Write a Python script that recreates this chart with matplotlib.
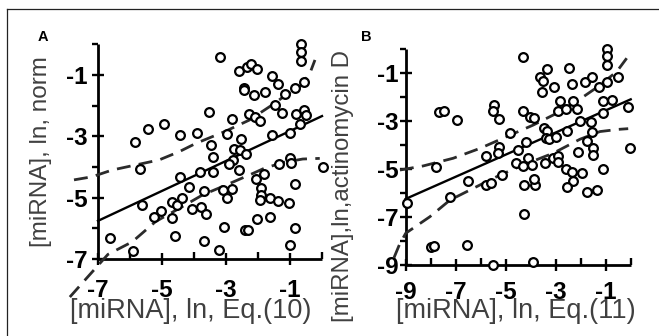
import matplotlib
matplotlib.use("Agg")
import matplotlib.pyplot as plt
import numpy as np
from matplotlib.ticker import FixedLocator

plt.rcParams['font.family'] = ['Liberation Sans', 'DejaVu Sans']

# ---------------- Panel A data ----------------
a_x = [-3.18, -0.67, -0.67, -0.67, -2.58, -2.35, -2.23, -2.04, -1.57, -1.37,
       -2.45, -2.45, -2.11, -1.77, -1.17, -0.85, -0.56, -3.54, -2.81, -2.27,
       -2.08, -1.93, -1.48, -1.25, -0.82, -0.56, -0.49, -0.69, -5.43, -4.93,
       -5.85, -4.43, -3.91, -2.97, -3.47, -2.53, -1.57, -0.99, -2.74, -2.56,
       -2.37, -3.42, -2.79, -2.92, -2.58, -5.69, -3.82, -3.40, -4.45, -4.15,
       -3.70, -3.10, -2.81, -2.98, -2.06, -1.82, -1.90, -1.92, -1.95, -1.62,
       -1.37, -1.02, -0.85, -1.33, -1.01, -0.98, 0.04, -5.64, -4.68, -4.54,
       -4.36, -5.02, -5.25, -4.68, -4.05, -3.79, -3.63, -3.05, -2.42, -2.32,
       -2.03, -1.64, -0.84, -1.01, -4.59, -3.68, -6.64, -5.90, -3.21]
a_y = [-0.42, 0.01, -0.26, -0.53, -0.87, -0.75, -0.65, -0.80, -1.02, -1.29,
       -1.43, -1.50, -1.65, -1.54, -1.63, -1.43, -1.22, -2.20, -2.45, -2.28,
       -2.36, -2.50, -1.98, -2.23, -2.27, -2.14, -2.30, -2.59, -2.77, -2.61,
       -3.20, -2.95, -2.89, -2.93, -3.28, -3.09, -2.96, -2.89, -3.41, -3.43,
       -3.58, -3.68, -3.77, -3.91, -4.11, -4.07, -4.17, -4.17, -4.32, -4.64,
       -4.77, -4.75, -4.73, -5.02, -4.40, -4.23, -4.70, -4.91, -5.08, -5.00,
       -5.10, -5.18, -4.55, -3.90, -3.72, -3.86, -4.01, -5.24, -5.13, -5.24,
       -5.02, -5.43, -5.62, -5.65, -5.38, -5.30, -5.54, -5.95, -6.05, -6.05,
       -5.71, -5.64, -5.98, -6.54, -6.24, -6.41, -6.31, -6.73, -6.72]
a_fit_slope = 0.488
a_fit_intercept = -2.34
a_up_x = [-7.75, -7.19, -6.56, -5.09, -4.46, -3.94, -3.05, -2.27, -1.59, -1.12, -0.69, -0.38, -0.22]
a_up_y = [-4.42, -4.32, -4.10, -3.77, -3.50, -3.23, -2.85, -2.47, -2.00, -1.65, -1.38, -0.95, -0.51]
a_lo_x = [-7.88, -7.30, -6.69, -5.93, -5.20, -4.46, -3.73, -3.00, -2.16, -1.80, -1.20, -0.60, -0.07]
a_lo_y = [-8.24, -7.56, -6.85, -6.44, -5.78, -5.35, -4.91, -4.59, -4.21, -4.04, -3.85, -3.74, -3.72]
a_xmajor = [-7, -5, -3, -1]
a_xminor = [-6, -4, -2, 0]
a_ymajor = [-7, -5, -3, -1]
a_yminor = [-6, -4, -2, 0]

# ---------------- Panel B data ----------------
b_x = [-4.29, -0.96, -0.96, -0.96, -3.36, -2.46, -3.63, -3.52, -3.56, -3.07,
       -2.34, -1.83, -1.56, -1.27, -0.94, -0.52, -2.83, -2.32, -2.92, -2.59,
       -2.16, -1.12, -0.76, -1.12, -0.12, -7.66, -7.46, -6.96, -5.47, -5.52,
       -5.26, -4.32, -4.03, -3.87, -2.03, -1.60, -3.47, -3.36, -4.83, -4.19,
       -3.40, -3.27, -3.00, -2.56, -1.56, -1.76, -1.49, -2.10, -0.03, -5.27,
       -5.30, -5.77, -4.50, -4.10, -4.59, -4.32, -3.96, -3.43, -3.10, -2.90,
       -2.90, -1.52, -2.59, -2.36, -2.32, -2.54, -1.96, -1.10, -1.74, -1.36,
       -7.80, -6.49, -5.79, -5.60, -5.14, -4.27, -3.83, -3.87, -7.23, -8.94,
       -4.26, -8.00, -7.86, -6.56, -5.52, -3.90]
b_y = [-0.33, -0.02, -0.29, -0.68, -0.86, -0.82, -1.19, -1.33, -1.82, -1.58,
       -1.48, -1.38, -1.17, -1.58, -1.40, -1.19, -2.17, -2.17, -2.58, -2.51,
       -2.51, -2.18, -2.14, -2.69, -2.42, -2.62, -2.59, -2.97, -2.34, -2.59,
       -2.93, -2.59, -2.86, -2.90, -3.00, -3.06, -3.31, -3.41, -3.50, -3.87,
       -3.70, -3.76, -3.66, -3.41, -3.46, -3.84, -4.15, -4.29, -4.15, -4.08,
       -4.35, -4.45, -4.22, -4.56, -4.77, -4.87, -4.84, -4.77, -4.56, -4.47,
       -4.70, -4.42, -5.01, -5.14, -5.49, -5.74, -5.16, -5.01, -5.95, -5.88,
       -4.91, -5.51, -5.67, -5.60, -5.26, -5.67, -5.67, -5.42, -6.16, -6.43,
       -6.89, -8.24, -8.21, -8.17, -9.00, -8.89]
b_fit_slope = 0.46
b_fit_intercept = -2.11
b_up_x = [-9.23, -8.30, -7.10, -6.03, -4.96, -3.90, -2.96, -2.03, -1.36, -0.56, -0.16]
b_up_y = [-5.05, -4.88, -4.56, -4.15, -3.66, -3.18, -2.69, -2.10, -1.62, -0.96, -0.40]
b_lo_x = [-9.47, -9.25, -9.00, -8.03, -7.23, -6.16, -5.23, -4.30, -3.10, -2.03, -1.23, -0.50, -0.10]
b_lo_y = [-8.70, -8.15, -7.68, -6.99, -6.30, -5.74, -5.26, -4.84, -4.35, -3.77, -3.45, -3.36, -3.33]
b_xmajor = [-9, -7, -5, -3, -1]
b_xminor = [-8, -6, -4, -2, 0]
b_ymajor = [-9, -7, -5, -3, -1]
b_yminor = [-8, -6, -4, -2, 0]

W, H = 659, 336
fig = plt.figure(figsize=(W / 100, H / 100), dpi=100)

def px_rect(l, r, b, t):
    return [l / W, (H - b) / H, (r - l) / W, (b - t) / H]

def panel(ax, xs, ys, slope, icpt, upx, upy, lox, loy, xlim, ylim,
          xmaj, xmin, ymaj, ymin, ypad, xpad):
    ax.set_xlim(*xlim)
    ax.set_ylim(*ylim)
    for s in ['top', 'right']:
        ax.spines[s].set_visible(False)
    for s in ['left', 'bottom']:
        ax.spines[s].set_linewidth(2.0)
        ax.spines[s].set_capstyle('butt')
    ax.xaxis.set_major_locator(FixedLocator(xmaj))
    ax.xaxis.set_minor_locator(FixedLocator(xmin))
    ax.yaxis.set_major_locator(FixedLocator(ymaj))
    ax.yaxis.set_minor_locator(FixedLocator(ymin))
    ax.set_xticklabels([str(v) for v in xmaj])
    ax.set_yticklabels([str(v) for v in ymaj])
    ax.tick_params(axis='both', which='major', direction='inout', length=9,
                   width=1.7, labelsize=17.5)
    ax.tick_params(axis='x', which='major', pad=xpad)
    ax.tick_params(axis='y', which='major', pad=ypad)
    ax.tick_params(axis='x', which='minor', direction='in', length=5, width=1.7)
    ax.tick_params(axis='y', which='minor', direction='out', length=4.5, width=1.7)
    for lab in ax.get_xticklabels() + ax.get_yticklabels():
        lab.set_fontweight('bold')
    xx = np.array(xlim, dtype=float)
    ax.plot(xx, icpt + slope * xx, color='black', lw=1.7, clip_on=False, zorder=3)
    for bx, by in ((upx, upy), (lox, loy)):
        ax.plot(bx, by, color='#2b2b2b', lw=2.0, linestyle=(0, (5.0, 3.0)),
                clip_on=False, zorder=3, dash_capstyle='butt')
    ax.plot(xs, ys, linestyle='none', marker='o', ms=6.3, mew=1.6,
            mec='black', mfc='white', clip_on=False, zorder=5)
    ax.patch.set_alpha(0)

axA = fig.add_axes(px_rect(98, 322, 259, 44.3))
panel(axA, a_x, a_y, a_fit_slope, a_fit_intercept, a_up_x, a_up_y, a_lo_x, a_lo_y,
      (-7, 0), (-7, 0), a_xmajor, a_xminor, a_ymajor, a_yminor, ypad=3, xpad=10)

axB = fig.add_axes(px_rect(405.7, 630.7, 265, 48.6))
panel(axB, b_x, b_y, b_fit_slope, b_fit_intercept, b_up_x, b_up_y, b_lo_x, b_lo_y,
      (-9, 0), (-9, 0), b_xmajor, b_xminor, b_ymajor, b_yminor, ypad=0.5, xpad=7)

lab_col = '#404040'
fig.text(191 / W, (H - 318) / H, '[miRNA], ln, Eq.(10)', fontsize=19.5,
         ha='center', va='baseline', color=lab_col)
fig.text(516 / W, (H - 318) / H, '[miRNA], ln, Eq.(11)', fontsize=19.5,
         ha='center', va='baseline', color=lab_col)
fig.text(41.5 / W, (H - 151.5) / H, '[miRNA], ln, norm', fontsize=17.5,
         ha='center', va='center', rotation=90, color=lab_col)
fig.text(342.5 / W, (H - 186) / H, '[miRNA],ln,actinomycin D', fontsize=17.3,
         ha='center', va='center', rotation=90, color=lab_col)

fig.text(42.5 / W, (H - 37) / H, 'A', fontsize=10.5, fontweight='bold',
         ha='center', va='center')
fig.text(366 / W, (H - 37) / H, 'B', fontsize=10.5, fontweight='bold',
         ha='center', va='center')

# figure frame (top and left edges)
fig.add_artist(plt.Line2D([7.3 / W, 1], [(H - 9.3) / H, (H - 9.3) / H],
                          color='#222222', lw=0.9, transform=fig.transFigure))
fig.add_artist(plt.Line2D([7.3 / W, 7.3 / W], [0, (H - 9.3) / H],
                          color='#222222', lw=0.9, transform=fig.transFigure))

fig.savefig('out.png', dpi=100)
